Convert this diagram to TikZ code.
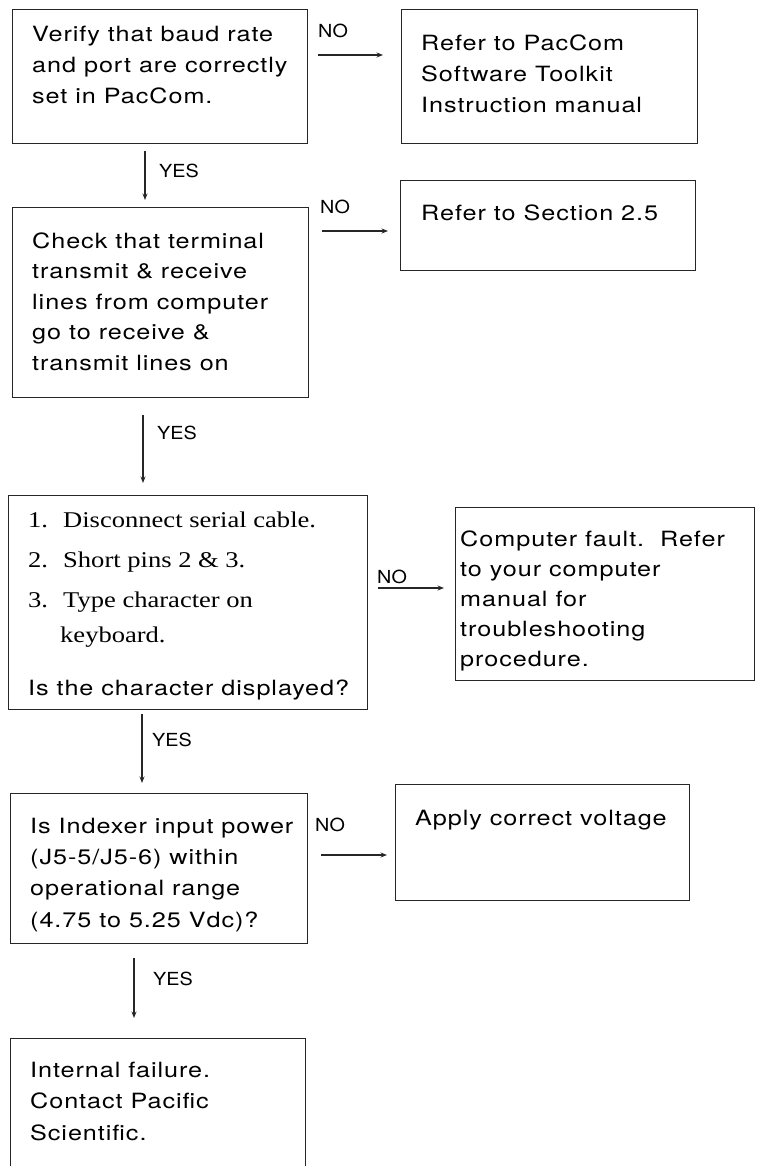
\documentclass[tikz,border=0pt]{standalone}
\usepackage{fontspec}
\setmainfont{TeX Gyre Heros}[FakeStretch=1.2,LetterSpace=4.5]
\newfontfamily\lblfont{TeX Gyre Heros}[FakeStretch=1.1]
\newfontfamily\rmfnt{Liberation Serif}[FakeStretch=1.18]
\usetikzlibrary{arrows.meta}
\tikzset{
  box/.style={draw=black!85, line width=1.1pt, inner sep=0pt, anchor=north west},
  txt/.style={anchor=north west, inner sep=0pt, align=left, font=\fontsize{21}{31}\selectfont},
  srf/.style={anchor=north west, inner sep=0pt, align=left, font=\rmfnt\fontsize{22.5}{35}\selectfont},
  lbl/.style={anchor=west, inner sep=0pt, font=\lblfont\fontsize{18}{18}\selectfont},
  arr/.style={-{Stealth[length=6.5pt,width=5pt]}, line width=1.3pt, draw=black!85},
}
\newcommand{\fst}{\rule{0pt}{16pt}}
\begin{document}
\begin{tikzpicture}[x=1pt,y=-1pt]
\useasboundingbox (0,0) rectangle (756,1166);
% boxes
\node[box, minimum width=295pt, minimum height=134pt] (b1) at (12,9) {};
\node[box, minimum width=296pt, minimum height=134pt] (r1) at (401,9) {};
\node[box, minimum width=296pt, minimum height=190pt] (b2) at (12,207) {};
\node[box, minimum width=295pt, minimum height=90pt] (r2) at (400,180) {};
\node[box, minimum width=359pt, minimum height=214pt] (b3) at (8,495) {};
\node[box, minimum width=299pt, minimum height=173pt] (r3) at (455,507) {};
\node[box, minimum width=297pt, minimum height=150pt] (b4) at (10,793) {};
\node[box, minimum width=294pt, minimum height=116pt] (r4) at (395,784) {};
\node[box, minimum width=295pt, minimum height=150pt] (b5) at (10,1038) {};
% texts
\node[txt] (t1) at (32,25) {\fst Verify that baud rate\\and port are correctly\\set in PacCom.};
\node[txt] (tr1) at (421,34) {\fst Refer to PacCom\\Software Toolkit\\Instruction manual};
\node[txt, font=\fontsize{21}{30.5}\selectfont] (t2) at (32,232) {\fst Check that terminal\\transmit \& receive\\lines from computer\\go to receive \&\\transmit lines on};
\node[txt] (tr2) at (421,204) {\fst Refer to Section 2.5};
\node[srf] (t3) at (28,511) {\fst\makebox[35pt][l]{1.}Disconnect serial cable.\\[5pt]\makebox[35pt][l]{2.}Short pins 2 \& 3.\\[5pt]\makebox[35pt][l]{3.}Type character on\\\hspace*{32pt}keyboard.};
\node[txt] (t3b) at (28,679) {\fst Is the character displayed?};
\node[txt, font=\fontsize{21}{30}\selectfont] (tr3) at (460,530) {\fst Computer fault.\ \ Refer\\to your computer\\manual for\\troubleshooting\\procedure.};
\node[txt, font=\fontsize{21}{31.3}\selectfont] (t4) at (30,817) {\fst Is Indexer input power\\(J5-5/J5-6) within\\operational range\\(4.75 to 5.25 Vdc)?};
\node[txt] (tr4) at (415,809) {\fst Apply correct voltage};
\node[txt, font=\fontsize{21}{31.5}\selectfont] (t5) at (30,1061) {\fst Internal failure.\\Contact Pacific\\Scientific.};
% NO connectors
\draw[arr] ([shift={(10,46)}]b1.north east) -- ([shift={(-18,46)}]r1.north west);
\draw[arr] ([shift={(13,24)}]b2.north east) -- ([shift={(-12,51)}]r2.north west);
\draw[arr] ([shift={(10,93)}]b3.north east) -- ([shift={(-11,81)}]r3.north west);
\draw[arr] ([shift={(13,62)}]b4.north east) -- ([shift={(-8,71)}]r4.north west);
% YES connectors
\draw[arr] ([shift={(133,7)}]b1.south west) -- ([shift={(133,-7)}]b2.north west);
\draw[arr] ([shift={(131,17)}]b2.south west) -- ([shift={(135,-12)}]b3.north west);
\draw[arr] ([shift={(134,4)}]b3.south west) -- ([shift={(132,-10)}]b4.north west);
\draw[arr] ([shift={(124,14)}]b4.south west) -- ([shift={(124,-20)}]b5.north west);
% labels
\node[lbl] (n1) at (318,31) {NO};
\node[lbl] (n2) at (320,207) {NO};
\node[lbl] (n3) at (377,577) {NO};
\node[lbl] (n4) at (315,825) {NO};
\node[lbl] (y1) at (159,171) {YES};
\node[lbl] (y2) at (157,433) {YES};
\node[lbl] (y3) at (152,740) {YES};
\node[lbl] (y4) at (153,979) {YES};
\end{tikzpicture}
\end{document}
